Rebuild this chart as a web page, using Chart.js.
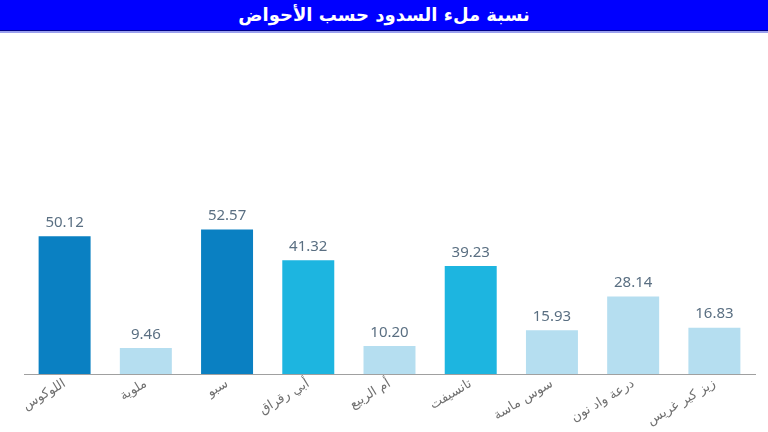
<!DOCTYPE html>
<html><head><meta charset="utf-8">
<script src="https://cdn.jsdelivr.net/npm/chart.js@4"></script>
<style>
html,body{margin:0;padding:0;background:#fff;width:768px;height:432px;overflow:hidden;}
#title{position:absolute;left:0;top:0;width:768px;height:30px;background:#0000ff;color:#fff;
font-family:"DejaVu Sans",sans-serif;font-weight:bold;font-size:18px;line-height:30px;text-align:center;direction:rtl;
border-bottom:1px solid #00008a;box-shadow:0 2px 0 #9aa0ee;}
#wrap{position:absolute;left:0;top:33px;width:768px;height:399px;}
</style></head><body>
<div id="title">نسبة ملء السدود حسب الأحواض</div>
<div id="wrap"><canvas id="c"></canvas></div>
<script>
const categories = ["اللوكوس","ملوية","سبو","أبي رقراق","أم الربيع","تانسيفت","سوس ماسة","درعة واد نون","زيز كير غريس"];
const fillRates = [50.12, 9.46, 52.57, 41.32, 10.20, 39.23, 15.93, 28.14, 16.83];
const barColors = ["#0a80c2","#b5def0","#0a80c2","#1db5e0","#b5def0","#1db5e0","#b5def0","#b5def0","#b5def0"];

const valueLabels = {
  id:'valueLabels',
  afterDatasetsDraw(chart){
    const {ctx} = chart;
    const meta = chart.getDatasetMeta(0);
    ctx.save();
    ctx.font = '15px "Noto Sans", sans-serif';
    ctx.fillStyle = '#5a6f82';
    ctx.textAlign = 'center';
    ctx.textBaseline = 'bottom';
    meta.data.forEach((bar,i)=>{
      ctx.fillText(fillRates[i].toFixed(2), bar.x, bar.y - 6);
    });
    ctx.restore();
  }
};

new Chart(document.getElementById('c'), {
  type:'bar',
  data:{labels:categories, datasets:[{data:fillRates, backgroundColor:barColors, barPercentage:0.64, categoryPercentage:1.0}]},
  options:{
    responsive:true, maintainAspectRatio:false, animation:false,
    layout:{padding:{left:24, right:13, top:66, bottom:0}},
    plugins:{legend:{display:false}, tooltip:{enabled:false}, title:{display:false}},
    scales:{
      y:{display:false, min:0, max:100},
      x:{grid:{display:false, drawTicks:false}, border:{display:true, color:'#a0a0a0', width:1},
         afterFit(scale){ scale.height = 58; },
         ticks:{autoSkip:false, maxRotation:31, minRotation:31, padding:2, color:'#707070',
           font:{family:'"DejaVu Sans", sans-serif', size:13}}}
    }
  },
  plugins:[valueLabels]
});
</script>
</body></html>
